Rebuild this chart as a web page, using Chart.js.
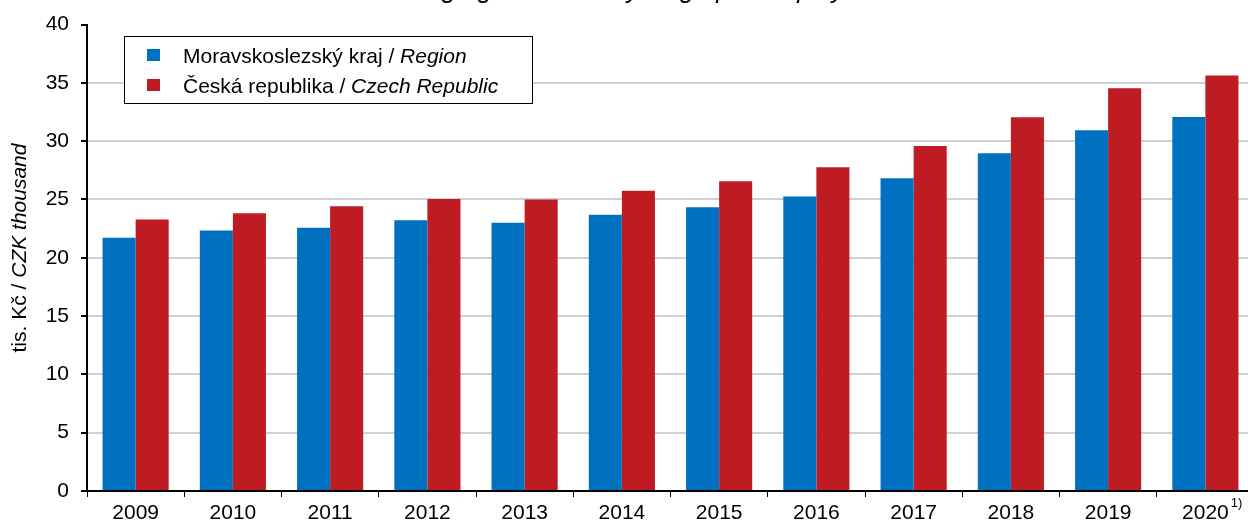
<!DOCTYPE html>
<html><head><meta charset="utf-8">
<script src="https://cdn.jsdelivr.net/npm/chart.js@4.4.1/dist/chart.umd.min.js"></script>
<style>html,body{margin:0;padding:0;overflow:hidden;background:#fff;width:1248px;height:523px}canvas{display:block}</style>
</head><body>
<canvas id="c" width="1262" height="523"></canvas>
<script>
const years = ['2009','2010','2011','2012','2013','2014','2015','2016','2017','2018','2019','2020'];
const regionValues = [21.71,22.35,22.57,23.23,23.00,23.70,24.34,25.26,26.82,28.96,30.93,32.07];
const czechValues  = [23.29,23.83,24.43,25.05,25.00,25.74,26.57,27.77,29.59,32.05,34.55,35.64];
const yMin = 0, yMax = 40, yStep = 5;
const seriesNames = [['Moravskoslezský kraj / ','Region'],['Česká republika / ','Czech Republic']];
const seriesColors = ['#0070c0','#be1b22'];
const titleText = 'Average gross monthly wage per employee';
const axisTitle = ['tis. Kč / ','CZK thousand'];
const footnoteMark = '1)';
const footnoteIndex = 11;

const FONT = "'Liberation Sans', Arial, sans-serif";

const decor = {
  id:'decor',
  afterDraw(chart){
    const ctx = chart.ctx;
    ctx.save();
    // title (mostly outside the visible area)
    ctx.fillStyle = '#000';
    ctx.font = "italic 26px " + FONT;
    ctx.textAlign = 'center';
    ctx.textBaseline = 'alphabetic';
    ctx.fillText(titleText, 624, -2);

    // y axis title
    ctx.save();
    ctx.translate(26, 248);
    ctx.rotate(-Math.PI/2);
    ctx.textAlign = 'left';
    ctx.font = "21px " + FONT;
    const w1 = ctx.measureText(axisTitle[0]).width;
    ctx.font = "italic 21px " + FONT;
    const w2 = ctx.measureText(axisTitle[1]).width;
    const sx = -(w1+w2)/2;
    ctx.font = "21px " + FONT;
    ctx.fillText(axisTitle[0], sx, 0);
    ctx.font = "italic 21px " + FONT;
    ctx.fillText(axisTitle[1], sx + w1, 0);
    ctx.restore();

    // legend
    ctx.fillStyle = '#fff';
    ctx.fillRect(124, 36, 409, 68);
    ctx.strokeStyle = '#000';
    ctx.lineWidth = 1;
    ctx.strokeRect(124.5, 36.5, 408, 67);
    const baselines = [63, 93];
    seriesNames.forEach((parts, i) => {
      ctx.fillStyle = seriesColors[i];
      ctx.fillRect(147, baselines[i]-14, 13, 12);
      ctx.fillStyle = '#000';
      ctx.textAlign = 'left';
      ctx.font = "21px " + FONT;
      ctx.fillText(parts[0], 183, baselines[i]);
      const w = ctx.measureText(parts[0]).width;
      ctx.font = "italic 21px " + FONT;
      ctx.fillText(parts[1], 183 + w, baselines[i]);
    });

    // footnote mark on last label
    const xs = chart.scales.x;
    const cx = xs.getPixelForValue(footnoteIndex);
    ctx.font = "21px " + FONT;
    const lw = ctx.measureText(years[footnoteIndex]).width;
    ctx.font = "13px " + FONT;
    ctx.fillStyle = '#000';
    ctx.textAlign = 'left';
    ctx.textBaseline = 'top';
    ctx.fillText(footnoteMark, cx + lw/2 + 2, 497);
    ctx.restore();
  }
};

new Chart(document.getElementById('c'), {
  type:'bar',
  data:{
    labels: years,
    datasets:[
      {label: seriesNames[0].join(''), data: regionValues, backgroundColor: seriesColors[0], borderWidth:0, categoryPercentage:0.68, barPercentage:1},
      {label: seriesNames[1].join(''), data: czechValues, backgroundColor: seriesColors[1], borderWidth:0, categoryPercentage:0.68, barPercentage:1}
    ]
  },
  options:{
    responsive:false,
    devicePixelRatio:1,
    animation:false,
    layout:{padding:{left:0,right:8,top:24,bottom:0}},
    plugins:{legend:{display:false},tooltip:{enabled:false},title:{display:false}},
    scales:{
      x:{
        grid:{drawOnChartArea:false, drawTicks:true, tickLength:6, tickColor:'#000', offset:true},
        border:{color:'#000', width:2},
        ticks:{color:'#000', font:{family:FONT, size:21}, padding:4, maxRotation:0, autoSkip:false},
        afterFit(s){ s.height = 32; }
      },
      y:{
        min:yMin, max:yMax,
        ticks:{stepSize:yStep, color:'#000', font:{family:FONT, size:21}, padding:12},
        grid:{color:(c)=> (c.tick && (c.tick.value===yMax || c.tick.value===yMin)) ? 'rgba(0,0,0,0)' : '#d0d0d0', lineWidth:2, tickColor:'#000', tickLength:6},
        border:{color:'#000', width:2},
        afterFit(s){ s.width = 87; }
      }
    }
  },
  plugins:[decor]
});
</script>
</body></html>
